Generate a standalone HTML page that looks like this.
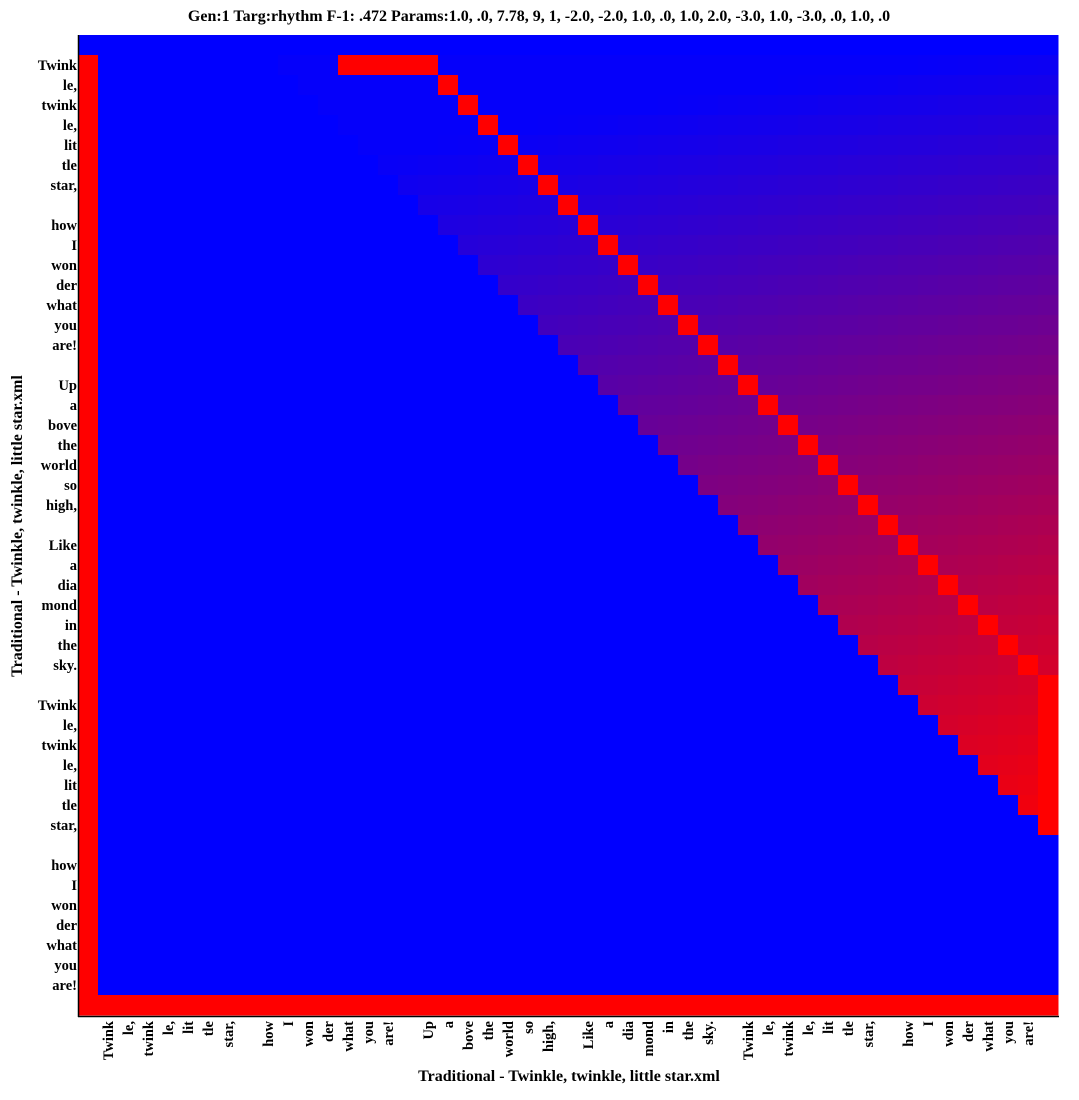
<!DOCTYPE html>
<html><head><meta charset="utf-8"><style>
body{margin:0;background:#fff;width:1079px;height:1095px;overflow:hidden}
text{font-family:"Liberation Serif",serif;font-weight:bold;fill:#000}
</style></head><body>
<svg id="chart" width="1079" height="1095" xmlns="http://www.w3.org/2000/svg">
<text x="539" y="21" text-anchor="middle" font-size="16">Gen:1 Targ:rhythm F-1: .472 Params:1.0, .0, 7.78, 9, 1, -2.0, -2.0, 1.0, .0, 1.0, 2.0, -3.0, 1.0, -3.0, .0, 1.0, .0</text>
<g id="cells"></g>
<g id="ylabels"></g>
<g id="xlabels"></g>
<line x1="78.5" y1="35" x2="78.5" y2="1017" stroke="#000" stroke-width="1.5"/>
<line x1="78" y1="1016.5" x2="1059" y2="1016.5" stroke="#000" stroke-width="1.5"/>
<text transform="translate(22,526) rotate(-90)" text-anchor="middle" font-size="16">Traditional - Twinkle, twinkle, little star.xml</text>
<text x="569" y="1081" text-anchor="middle" font-size="16">Traditional - Twinkle, twinkle, little star.xml</text>
</svg>
<script>
const tokens=["","Twink","le,","twink","le,","lit","tle","star,","","how","I","won","der","what","you","are!","","Up","a","bove","the","world","so","high,","","Like","a","dia","mond","in","the","sky.","","Twink","le,","twink","le,","lit","tle","star,","","how","I","won","der","what","you","are!",""];
const diagOffset=16;
const bandOffset=9;
const redRow1=[13,14,15,16,17];
const redCol48=[32,33,34,35,36,37,38,39];
const N=49,X0=78,Y0=35,S=20;
const NS="http://www.w3.org/2000/svg";
function cx(c){return X0+c*S;}
function cy(r){return Y0+r*S;}
function val(r,c){
  if(r===0) return 0;
  if(c===0||r===N-1) return 1;
  if(r===1&&redRow1.includes(c)) return 1;
  if(c===N-1&&redCol48.includes(r)) return 1;
  if(c===r+diagOffset) return 1;
  if(c>=r+bandOffset){
    const base=0.0286*r-0.14;
    const slope=0.004+0.0002*r;
    return Math.max(0.02,Math.min(0.95,base+slope*(c-r-bandOffset)));
  }
  return 0;
}
const g=document.getElementById('cells');
for(let r=0;r<N;r++)for(let c=0;c<N;c++){
  const t=val(r,c);
  const rc=document.createElementNS(NS,'rect');
  rc.setAttribute('x',cx(c));rc.setAttribute('y',cy(r));
  rc.setAttribute('width',S+0.5);rc.setAttribute('height',S+0.5);
  rc.setAttribute('fill',`rgb(${Math.round(255*t)},0,${Math.round(255*(1-t))})`);
  
  
  g.appendChild(rc);
}
const yl=document.getElementById('ylabels'),xl=document.getElementById('xlabels');
tokens.forEach((tk,i)=>{
  if(!tk) return;
  const t=document.createElementNS(NS,'text');
  t.setAttribute('x',77);t.setAttribute('y',cy(i)+15);
  t.setAttribute('text-anchor','end');t.setAttribute('font-size','14.5');
  t.textContent=tk;
  
  
  yl.appendChild(t);
  const u=document.createElementNS(NS,'text');
  u.setAttribute('transform',`translate(${cx(i)+15},1021) rotate(-90)`);
  u.setAttribute('text-anchor','end');u.setAttribute('font-size','14.5');
  u.textContent=tk;
  
  
  xl.appendChild(u);
});
</script>
</body></html>
